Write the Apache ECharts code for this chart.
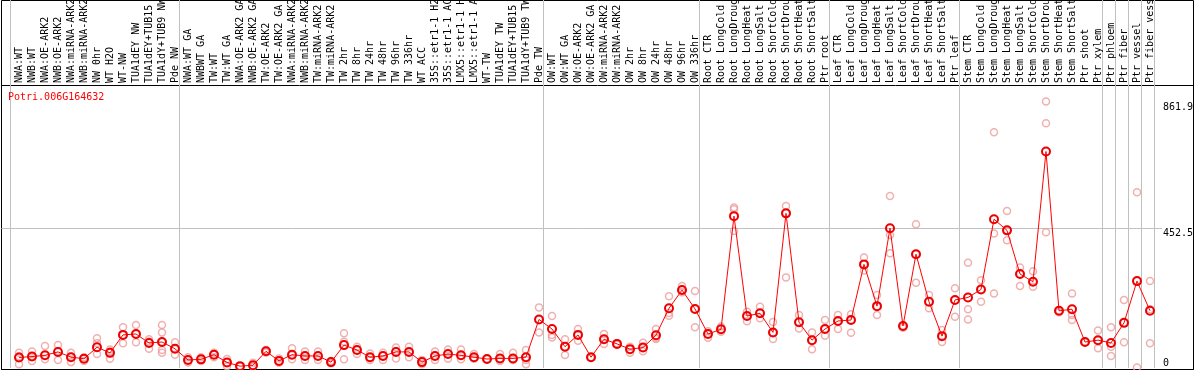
<!DOCTYPE html>
<html><head><meta charset="utf-8">
<script src="https://cdn.jsdelivr.net/npm/echarts@6/dist/echarts.min.js"></script>
<style>html,body{margin:0;padding:0;background:#fff}#c{width:1194px;height:370px}</style>
</head><body><div id="c"></div>
<script>
const categories = [
 'NWA:WT','NWB:WT','NWA:OE-ARK2','NWB:OE-ARK2','NWA:miRNA-ARK2','NWB:miRNA-ARK2','NW 0hr','WT H2O','WT-NW','TUA1dEY NW','TUA1dEY+TUB15 NW','TUA1dY+TUB9 NW','Pde NW',
 'NWA:WT GA','NWBWT GA','TW:WT','TW:WT GA','NWA:OE-ARK2 GA','NWB:OE-ARK2 GA','TW:OE-ARK2','TW:OE-ARK2 GA','NWA:miRNA-ARK2 GA','NWB:miRNA-ARK2 GA','TW:miRNA-ARK2','TW:miRNA-ARK2',
 'TW 2hr','TW 8hr','TW 24hr','TW 48hr','TW 96hr','TW 336hr','WT ACC','35S::etr1-1 H2O','35S::etr1-1 ACC','LMX5::etr1-1 H2O','LMX5::etr1-1 ACC','WT-TW','TUA1dEY TW','TUA1dEY+TUB15 TW','TUA1dY+TUB9 TW','Pde TW',
 'OW:WT','OW:WT GA','OW:OE-ARK2','OW:OE-ARK2 GA','OW:miRNA-ARK2','OW:miRNA-ARK2','OW 2hr','OW 8hr','OW 24hr','OW 48hr','OW 96hr','OW 336hr',
 'Root CTR','Root LongCold','Root LongDrought','Root LongHeat','Root LongSalt','Root ShortCold','Root ShortDrought','Root ShortHeat','Root ShortSalt','Ptr root',
 'Leaf CTR','Leaf LongCold','Leaf LongDrought','Leaf LongHeat','Leaf LongSalt','Leaf ShortCold','Leaf ShortDrought','Leaf ShortHeat','Leaf ShortSalt','Ptr leaf',
 'Stem CTR','Stem LongCold','Stem LongDrought','Stem LongHeat','Stem LongSalt','Stem ShortCold','Stem ShortDrought','Stem ShortHeat','Stem ShortSalt','Ptr shoot','Ptr xylem',
 'Ptr phloem','Ptr fiber','Ptr vessel','Ptr fiber vessel'
];
const means = [
 34,37,41,52,35,30,67,49,107,110,81,84,62,
 26,28,43,18,6,9,54,23,43,39,39,19,74,58,35,39,52,52,19,39,45,41,35,29,31,31,35,157,
 126,69,107,35,93,78,61,66,106,193,252,191,
 110,125,491,168,177,115,500,148,90,126,
 152,155,335,200,452,136,368,214,103,220,
 228,254,481,445,304,279,700,185,190,84,90,
 81,146,281,185
];
const replicates = [
 [49,38,12],[53,37,23],[71,41,28],[74,55,26],[49,36,19],[35,30,23],[96,80,45],[60,53,30],[132,107,80],[139,110,83],[93,86,62],[139,115,84,58,49],[83,62,43],
 [35,26,18],[35,28,23],[49,43,35],[29,18,6],[6,6,6],[17,6,5],[58,54,50],[31,23,17],[64,42,28],[53,39,26],[53,39,26],[23,19,15],
 [112,85,28],[69,58,45],[47,34,26],[49,40,26],[66,55,31],[69,52,35],[26,19,12],[53,39,26],[60,45,30],[60,41,28],[45,34,30],[29,29,29],[45,31,23],[49,31,26],[58,35,26,12],[196,157,115],
 [168,107,99],[93,69,42],[126,107,88],[35,34,34],[110,93,78],[80,78,76],[69,61,49],[82,66,54],[126,98,94],[232,178,169],[265,252,245],[249,191,132],
 [119,110,98],[134,125,117],[519,513,443],[182,168,151],[198,177,161],[149,115,94],[524,500,293],[171,148,128],[115,90,61],[155,126,104],
 [171,152,126],[174,155,114],[357,335,315],[236,198,171],[556,430,371],[136,136,130],[465,368,276],[236,214,193],[123,103,84],[258,220,166],
 [340,190,157],[284,254,214],[762,435,241],[508,445,413],[325,304,265],[313,279,263],[861.9,791,439],[185,185,180],[241,171,155],[84,84,84],[121,90,64],
 [132,69,39],[220,146,83],[568,281,2],[281,190,80]
];
const yTickLabels = [0, 452.5, 861.9];
const gridLineValues = [452.5];
const groupStarts = [0,13,41,53,63,73,84,85,86,87];
const titleText = 'Potri.006G164632';

const repPoints = [];
replicates.forEach((reps, i) => reps.forEach(v => repPoints.push([i, v])));
const FONT = 'DejaVu Sans Mono';
const YMAX = 915;
const G = {outerBoundsMode: 'none', containLabel: false};
const chart = echarts.init(document.getElementById('c'), null, {renderer: 'canvas'});
chart.setOption({
  animation: false,
  title: {text: titleText, left: 8, top: 92, padding: 0,
    textStyle: {color: '#ff0000', fontSize: 10, fontFamily: FONT, fontWeight: 'normal'}},
  grid: [
    Object.assign({left: 12.5, right: 37.5, top: 85, bottom: 2}, G),
    Object.assign({left: 10.7, right: 39.3, top: 0, bottom: 2}, G),
    Object.assign({left: 1.5, right: 0.5, top: 0.5, bottom: 0.5, show: true, borderColor: '#000', borderWidth: 1, backgroundColor: 'transparent'}, G),
    Object.assign({left: 1.5, right: 0.5, top: 85.5, bottom: 0.5, show: true, borderColor: '#000', borderWidth: 1, backgroundColor: 'transparent'}, G),
    Object.assign({left: 1.5, right: 32, top: 85, bottom: 2}, G)
  ],
  xAxis: [
    {gridIndex: 0, type: 'category', position: 'top', data: categories, boundaryGap: true,
      axisLine: {show: false}, axisTick: {show: false}, splitLine: {show: false},
      axisLabel: {interval: 0, rotate: 90, margin: 2, color: '#000', fontSize: 10, fontFamily: FONT, hideOverlap: false}},
    {gridIndex: 1, type: 'category', data: categories, boundaryGap: true,
      axisLine: {show: false}, axisTick: {show: false}, axisLabel: {show: false},
      splitLine: {show: true, interval: (idx) => groupStarts.indexOf(idx) >= 0, lineStyle: {color: '#c0c0c0', width: 1}}},
    {gridIndex: 2, type: 'value', show: false},
    {gridIndex: 3, type: 'value', show: false},
    {gridIndex: 4, type: 'value', show: false}
  ],
  yAxis: [
    {gridIndex: 0, type: 'value', position: 'right', min: 0, max: YMAX,
      axisLine: {show: false}, axisTick: {show: false}, splitLine: {show: false},
      axisLabel: {customValues: yTickLabels, margin: 6.5, color: '#000', fontSize: 10, fontFamily: FONT,
        verticalAlign: 'middle',
        formatter: v => (v === 0 ? '{b|0}' : '{t|' + v + '}'),
        rich: {
          t: {fontSize: 10, fontFamily: FONT, color: '#000', padding: [11, 0, 0, 0]},
          b: {fontSize: 10, fontFamily: FONT, color: '#000', padding: [0, 0, 10, 0]}
        }}},
    {gridIndex: 1, type: 'value', show: false},
    {gridIndex: 2, type: 'value', show: false},
    {gridIndex: 3, type: 'value', show: false},
    {gridIndex: 4, type: 'value', min: 0, max: YMAX,
      axisLine: {show: false}, axisTick: {show: false, customValues: gridLineValues}, axisLabel: {show: false},
      splitLine: {show: true, lineStyle: {color: '#c0c0c0', width: 1}}}
  ],
  series: [
    {type: 'scatter', xAxisIndex: 0, yAxisIndex: 0, data: repPoints, symbol: 'circle', symbolSize: 7,
      itemStyle: {color: 'rgba(0,0,0,0)', borderColor: '#ee9c9c', borderWidth: 1.5}, z: 3},
    {type: 'line', xAxisIndex: 0, yAxisIndex: 0, data: means, symbol: 'circle', symbolSize: 8, showSymbol: true,
      lineStyle: {color: '#ff0000', width: 1},
      itemStyle: {color: 'rgba(0,0,0,0)', borderColor: '#ee0000', borderWidth: 2}, z: 4}
  ]
});
</script></body></html>
